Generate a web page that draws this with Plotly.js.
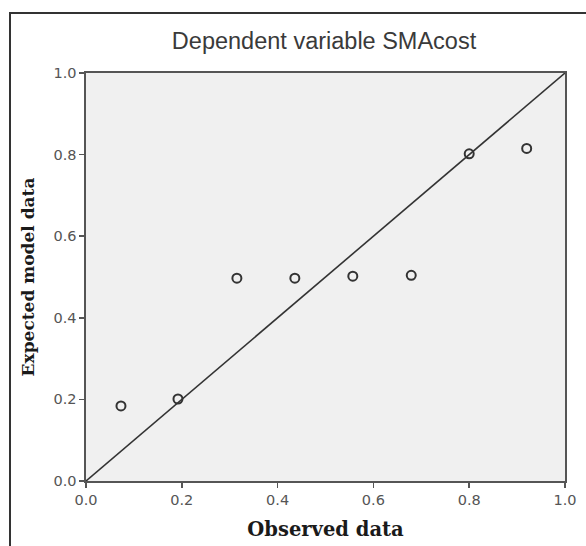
<!DOCTYPE html>
<html>
<head>
<meta charset="utf-8">
<script src="https://cdn.plot.ly/plotly-3.0.1.min.js"></script>
<style>
  html, body { margin: 0; padding: 0; background: #fff; }
  #wrap { position: relative; width: 586px; height: 546px; }
  #chart { width: 586px; height: 546px; }
  #frame { position: absolute; left: 9px; top: 12px; width: 600px; height: 600px;
           border-left: 2px solid #333; border-top: 2px solid #333; pointer-events: none; }
</style>
</head>
<body>
<div id="wrap">
  <div id="chart"></div>
  <div id="frame"></div>
</div>
<script>
const observed = [0.073, 0.192, 0.315, 0.436, 0.557, 0.679, 0.800, 0.920];
const expected = [0.184, 0.201, 0.497, 0.497, 0.502, 0.504, 0.802, 0.815];
const refX = [0, 1];
const refY = [0, 1];
const tickVals = [0, 0.2, 0.4, 0.6, 0.8, 1.0];
const tickText = ['0.0', '0.2', '0.4', '0.6', '0.8', '1.0'];

const traces = [
  {
    x: refX, y: refY, type: 'scatter', mode: 'lines',
    line: { color: '#333', width: 1.6 }, hoverinfo: 'skip', showlegend: false
  },
  {
    x: observed, y: expected, type: 'scatter', mode: 'markers',
    marker: { symbol: 'circle-open', size: 9, color: '#333', line: { width: 2, color: '#3a3a3a' } },
    showlegend: false
  }
];

const axisCommon = {
  range: [0, 1], tickvals: tickVals, ticktext: tickText,
  showgrid: false, zeroline: false, showline: true, mirror: true,
  linecolor: '#555', linewidth: 1.6,
  ticks: 'outside', ticklen: 5, tickwidth: 1.6, tickcolor: '#555',
  tickfont: { family: 'DejaVu Sans, sans-serif', size: 14.5, color: '#555' }
};

const layout = {
  width: 586, height: 546,
  margin: { l: 86, r: 21, t: 73, b: 65 },
  paper_bgcolor: '#ffffff', plot_bgcolor: '#f0f0f0',
  title: { text: 'Dependent variable SMAcost', x: 0.553, xanchor: 'center', y: 0.925, yanchor: 'middle',
           font: { family: 'Arial, Liberation Sans, sans-serif', size: 23.5, color: '#3a3a3a' } },
  xaxis: Object.assign({}, axisCommon, {
    title: { text: 'Observed data', standoff: 15,
             font: { family: 'DejaVu Serif, serif', size: 19.5, color: '#1a1a1a', weight: 'bold' } }
  }),
  yaxis: Object.assign({}, axisCommon, {
    title: { text: 'Expected model data', standoff: 14,
             font: { family: 'DejaVu Serif, serif', size: 17, color: '#1a1a1a', weight: 'bold' } }
  }),
  showlegend: false
};

Plotly.newPlot('chart', traces, layout, { displayModeBar: false, staticPlot: true });
</script>
</body>
</html>
